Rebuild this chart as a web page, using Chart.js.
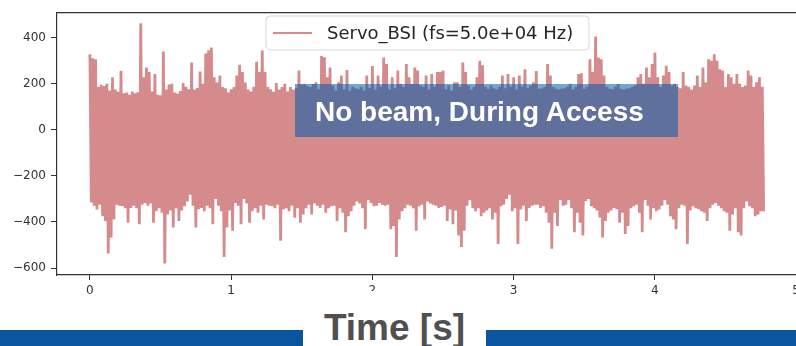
<!DOCTYPE html>
<html>
<head>
<meta charset="utf-8">
<script src="https://cdn.jsdelivr.net/npm/chart.js@4.4.1/dist/chart.umd.min.js"></script>
<style>
  html, body { margin: 0; padding: 0; background: #fff; overflow: hidden; }
  #page { position: relative; width: 796px; height: 346px; overflow: hidden; background: #fff; }
  #plot { position: absolute; left: 0; top: 0; }
  .bar { position: absolute; top: 330px; height: 16px; background: #0a55a0; }
  #axisTitle {
    position: absolute; left: 303px; top: 291px; width: 183px; height: 55px; background: #fff;
  }
  #axisTitle span {
    position: absolute; left: 0; top: 18px; width: 100%; text-align: center;
    font: bold 37px "Liberation Sans", Arial, sans-serif; line-height: 37px; color: #505050;
  }
  #note {
    position: absolute; left: 295px; top: 84px; width: 383px; height: 53px;
    background: rgba(0, 91, 171, 0.55);
  }
  #note span {
    position: absolute; left: 20px; top: 14px; white-space: nowrap;
    font: bold 28px "Liberation Sans", Arial, sans-serif; line-height: 28px; color: #fff;
  }
</style>
</head>
<body>
<div id="page">
  <canvas id="plot" width="804" height="346"></canvas>
  <div id="note"><span>No beam, During Access</span></div>
  <div class="bar" style="left:0;width:303px"></div>
  <div class="bar" style="left:486px;width:310px"></div>
  <div id="axisTitle"><span>Time [s]</span></div>
</div>
<script>
// Servo_BSI record, 50 kHz, summarised as the upper and lower excursion
// of the signal in consecutive 20 ms windows.
const SERIES_LABEL = 'Servo_BSI (fs=5.0e+04 Hz)';
const BIN_S = 0.02;

const peakMax = [
  328, 310, 306, 185, 195, 190, 200, 170, 228, 175,
  165, 256, 158, 162, 152, 166, 158, 163, 462, 228,
  270, 250, 166, 242, 152, 150, 339, 175, 196, 200,
  162, 157, 168, 203, 186, 176, 292, 175, 181, 253,
  200, 331, 345, 357, 228, 205, 235, 186, 180, 162,
  176, 185, 235, 282, 250, 205, 175, 166, 186, 295,
  250, 344, 250, 185, 176, 165, 203, 175, 186, 200,
  166, 185, 175, 180, 257, 196, 200, 190, 185, 198,
  206, 176, 320, 315, 228, 270, 192, 170, 206, 235,
  175, 259, 170, 186, 180, 176, 185, 170, 235, 181,
  277, 175, 235, 186, 313, 285, 175, 228, 180, 257,
  200, 185, 285, 228, 199, 270, 257, 192, 186, 235,
  175, 242, 185, 250, 250, 257, 176, 192, 170, 206,
  206, 185, 292, 250, 192, 175, 186, 228, 299, 280,
  185, 178, 192, 180, 176, 185, 235, 180, 242, 186,
  228, 175, 235, 186, 263, 180, 192, 206, 255, 178,
  179, 185, 285, 235, 186, 178, 175, 179, 180, 186,
  200, 175, 185, 242, 245, 178, 186, 306, 250, 405,
  313, 306, 235, 185, 178, 176, 186, 199, 178, 175,
  179, 180, 185, 192, 228, 242, 200, 270, 228, 285,
  335, 228, 185, 235, 278, 250, 192, 200, 185, 180,
  250, 192, 186, 175, 192, 235, 185, 270, 206, 306,
  299, 327, 299, 263, 257, 185, 242, 228, 200, 242,
  200, 185, 192, 257, 235, 185, 206, 228, 186
];

const peakMin = [
  -315, -330, -346, -325, -375, -396, -537, -467, -389, -325,
  -330, -332, -340, -403, -339, -330, -340, -410, -325, -318,
  -330, -320, -403, -353, -340, -360, -580, -368, -350, -424,
  -340, -396, -350, -332, -311, -282, -330, -424, -345, -339,
  -353, -330, -340, -410, -300, -330, -353, -552, -424, -350,
  -438, -318, -330, -410, -300, -320, -403, -353, -340, -360,
  -330, -389, -325, -330, -332, -340, -325, -481, -346, -340,
  -353, -330, -382, -340, -403, -368, -340, -325, -368, -320,
  -330, -339, -325, -360, -340, -332, -330, -396, -340, -360,
  -445, -375, -353, -330, -311, -320, -340, -431, -305, -318,
  -332, -330, -318, -325, -330, -325, -431, -417, -552, -389,
  -353, -340, -325, -330, -340, -438, -332, -325, -389, -311,
  -320, -325, -330, -339, -335, -330, -396, -346, -410, -350,
  -459, -509, -438, -330, -305, -340, -353, -340, -375, -360,
  -350, -340, -389, -360, -495, -332, -325, -300, -282, -353,
  -340, -495, -346, -330, -396, -339, -330, -325, -325, -339,
  -332, -360, -403, -516, -360, -417, -305, -330, -325, -305,
  -340, -445, -360, -403, -459, -310, -300, -332, -340, -350,
  -380, -467, -396, -360, -350, -339, -345, -403, -360, -452,
  -417, -340, -332, -325, -360, -445, -305, -330, -389, -340,
  -353, -346, -330, -305, -325, -375, -389, -431, -340, -325,
  -330, -495, -350, -332, -340, -345, -353, -360, -396, -340,
  -325, -318, -330, -340, -353, -360, -438, -368, -340, -445,
  -459, -340, -311, -332, -340, -375, -368, -353, -353
];

const xTickValues = [0, 1, 2, 3, 4, 5];
const yTickValues = [-600, -400, -200, 0, 200, 400];

// Each window contributes its upper excursion followed by its lower one.
const tracePoints = [];
peakMax.forEach((hi, i) => {
  tracePoints.push({ x: i * BIN_S, y: hi });
  tracePoints.push({ x: i * BIN_S + BIN_S / 2, y: peakMin[i] });
});

const TRACE_COLOR = '#d58b8c';
const AXIS_COLOR = '#333333';
const TICK_FONT = { family: '"DejaVu Sans", sans-serif', size: 12 };

// Axes frame (top/right spines) and the in-axes legend drawn over the data.
const framePlugin = {
  id: 'frameAndLegend',
  afterDraw(chart) {
    const { ctx, chartArea: a } = chart;
    ctx.save();
    ctx.strokeStyle = AXIS_COLOR;
    ctx.lineWidth = 1.2;
    ctx.beginPath();
    ctx.moveTo(a.left, a.top + 0.5);
    ctx.lineTo(a.right, a.top + 0.5);
    ctx.lineTo(a.right, a.bottom);
    ctx.stroke();

    const ds = chart.data.datasets[0];
    const bx = 266, by = 16, bw = 323, bh = 34, r = 4;
    ctx.beginPath();
    ctx.moveTo(bx + r, by);
    ctx.arcTo(bx + bw, by, bx + bw, by + bh, r);
    ctx.arcTo(bx + bw, by + bh, bx, by + bh, r);
    ctx.arcTo(bx, by + bh, bx, by, r);
    ctx.arcTo(bx, by, bx + bw, by, r);
    ctx.closePath();
    ctx.fillStyle = 'rgba(255,255,255,0.85)';
    ctx.fill();
    ctx.strokeStyle = '#d6d6d6';
    ctx.lineWidth = 1;
    ctx.stroke();

    ctx.strokeStyle = ds.borderColor;
    ctx.lineWidth = 2;
    ctx.beginPath();
    ctx.moveTo(273, 33);
    ctx.lineTo(312, 33);
    ctx.stroke();

    ctx.fillStyle = '#262626';
    ctx.font = '18px "DejaVu Sans", sans-serif';
    ctx.textBaseline = 'alphabetic';
    ctx.textAlign = 'left';
    ctx.fillText(ds.label, 327, 39);
    ctx.restore();
  }
};

const minusLabel = v => (v < 0 ? '\u2212' + Math.abs(v) : String(v));

new Chart(document.getElementById('plot'), {
  type: 'line',
  data: {
    datasets: [{
      label: SERIES_LABEL,
      data: tracePoints,
      borderColor: TRACE_COLOR,
      borderWidth: 2.8,
      borderJoinStyle: 'bevel',
      pointRadius: 0,
      tension: 0,
      fill: false
    }]
  },
  options: {
    responsive: false,
    animation: false,
    events: [],
    layout: { padding: { left: 0, top: 7, right: 6, bottom: 0 } },
    plugins: { legend: { display: false }, tooltip: { enabled: false } },
    scales: {
      x: {
        type: 'linear',
        min: -0.233,
        max: 5.01,
        afterBuildTicks: s => { s.ticks = xTickValues.map(v => ({ value: v })); },
        afterFit: s => { s.height = 346 - 275; },
        grid: { drawOnChartArea: false, drawTicks: true, tickLength: 5, tickColor: AXIS_COLOR, tickWidth: 1 },
        border: { display: true, color: AXIS_COLOR, width: 1.2 },
        ticks: { color: '#333', font: TICK_FONT, padding: 4, maxRotation: 0, autoSkip: false,
                 callback: v => String(v) }
      },
      y: {
        type: 'linear',
        min: -630,
        max: 510,
        afterBuildTicks: s => { s.ticks = yTickValues.map(v => ({ value: v })); },
        afterFit: s => { s.width = 57; },
        grid: { drawOnChartArea: false, drawTicks: true, tickLength: 6, tickColor: AXIS_COLOR, tickWidth: 1 },
        border: { display: true, color: AXIS_COLOR, width: 1.2 },
        ticks: { color: '#333', font: TICK_FONT, padding: 5, autoSkip: false, callback: minusLabel }
      }
    }
  },
  plugins: [framePlugin]
});
</script>
</body>
</html>
